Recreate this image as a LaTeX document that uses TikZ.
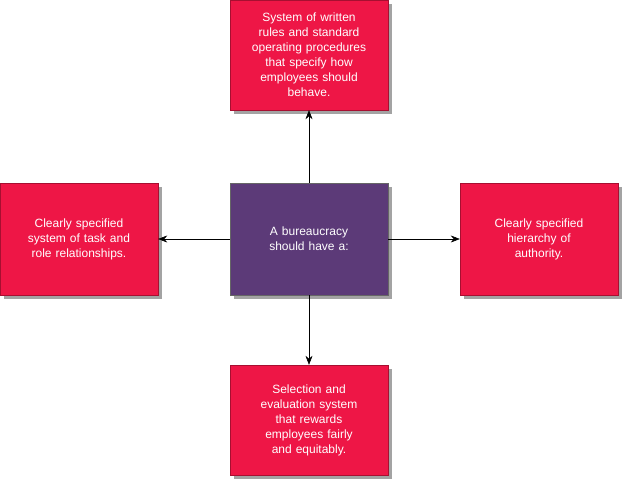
\documentclass[tikz,border=0pt]{standalone}
\usepackage{fontspec}
\setmainfont{Liberation Sans}
\usetikzlibrary{arrows.meta,shadows}
\definecolor{boxred}{HTML}{EE1646}
\definecolor{boxpurple}{HTML}{5C3A78}
\tikzset{
  card/.style={fill=boxred, draw=boxred!70!black, line width=0.4pt, minimum width=158pt, minimum height=110pt,
    text width=140pt, align=center, text=white, font=\fontsize{12}{15}\selectfont,
    drop shadow={shadow xshift=4pt, shadow yshift=-4pt, fill=black!45, opacity=0.8}},
  arr/.style={-{Stealth[length=9pt,width=7pt]}, line width=0.5pt}
}
\begin{document}
\begin{tikzpicture}[x=1pt,y=-1pt]
\useasboundingbox (0,0) rectangle (624,480);
\node[card, fill=boxpurple, draw=black!60, minimum height=112pt] (c) at (309,239) {A bureaucracy\\should have a:};
\node[card] (t) at (309,55) {System of written\\rules and standard\\operating procedures\\that specify how\\employees should\\behave.};
\node[card, minimum height=112pt] (l) at (79,239) {Clearly specified\\system of task and\\role relationships.};
\node[card, minimum height=112pt] (r) at (539,239) {Clearly specified\\hierarchy of\\authority.};
\node[card] (b) at (309,420) {Selection and\\evaluation system\\that rewards\\employees fairly\\and equitably.};
\draw[arr] (c) -- (t);
\draw[arr] (c) -- (l);
\draw[arr] (c) -- (r);
\draw[arr] (c) -- (b);
\end{tikzpicture}
\end{document}
